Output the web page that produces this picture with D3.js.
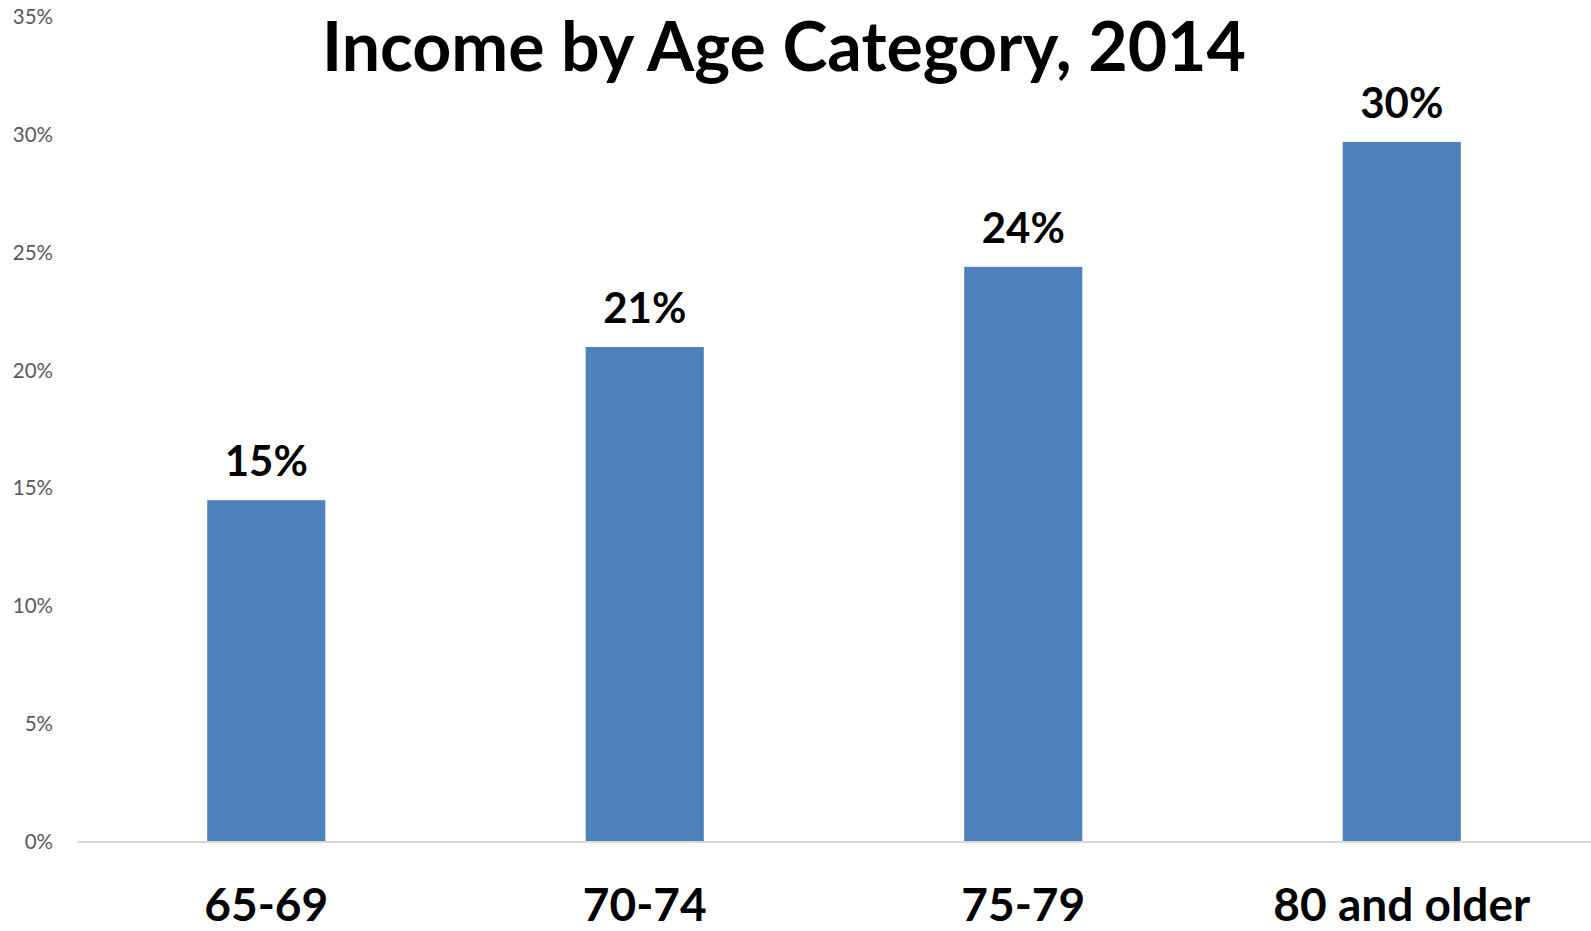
<!DOCTYPE html>
<html>
<head>
<meta charset="utf-8">
<script src="https://cdn.jsdelivr.net/npm/d3@7"></script>
<style>
  html, body { margin: 0; padding: 0; background: #ffffff; }
  svg { display: block; }
</style>
</head>
<body>
<svg id="chart" width="1591" height="931"></svg>
<script>
// Age groups and share of income (percent)
const categories = ["65-69", "70-74", "75-79", "80 and older"];
const values = [14.5, 21.0, 24.4, 29.7];
const yTicks = [0, 5, 10, 15, 20, 25, 30, 35];
const titleText = "Income by Age Category, 2014";

const W = 1591, H = 931;
const margin = { left: 77, right: 0, top: 17, bottom: 89 };
const FONT = "Lato, 'Open Sans', sans-serif";

const svg = d3.select("#chart");

const x = d3.scaleBand()
  .domain(categories)
  .range([margin.left, W - margin.right])
  .paddingInner(0.688)
  .paddingOuter(0.344);

const y = d3.scaleLinear()
  .domain([0, 35])
  .range([H - margin.bottom, margin.top]);

// Y axis labels (no axis line, no ticks)
const yAxis = svg.append("g")
  .attr("transform", `translate(${margin.left},0)`)
  .call(d3.axisLeft(y).tickValues(yTicks).tickSize(0).tickPadding(24)
    .tickFormat(d => d + "%"));
yAxis.select(".domain").remove();
yAxis.selectAll("text")
  .attr("fill", "#595959")
  .style("font-family", FONT)
  .style("font-size", "20.5px");

// Bars
svg.append("g").selectAll("rect")
  .data(values)
  .join("rect")
  .attr("x", (d, i) => x(categories[i]))
  .attr("width", x.bandwidth())
  .attr("y", d => y(d))
  .attr("height", d => y(0) - y(d))
  .attr("fill", "#4F81BD");

// Baseline
svg.append("line")
  .attr("x1", margin.left)
  .attr("x2", W - margin.right)
  .attr("y1", y(0))
  .attr("y2", y(0))
  .attr("stroke", "#D9D9D9")
  .attr("stroke-width", 2);

// Value labels
svg.append("g").selectAll("text")
  .data(values)
  .join("text")
  .attr("x", (d, i) => x(categories[i]) + x.bandwidth() / 2)
  .attr("y", d => y(d) - 24)
  .attr("text-anchor", "middle")
  .style("font-family", FONT)
  .style("font-weight", "700")
  .style("font-size", "42px")
  .attr("fill", "#000000")
  .text(d => Math.round(d) + "%");

// Category labels
const xAxis = svg.append("g")
  .attr("transform", `translate(0,${y(0)})`)
  .call(d3.axisBottom(x).tickSize(0).tickPadding(0));
xAxis.select(".domain").remove();
xAxis.selectAll("text")
  .attr("dy", null)
  .attr("y", 79)
  .attr("fill", "#000000")
  .style("font-family", FONT)
  .style("font-weight", "700")
  .style("font-size", "46px");

// Title
svg.append("text")
  .attr("x", 784)
  .attr("y", 71)
  .attr("text-anchor", "middle")
  .style("font-family", FONT)
  .style("font-weight", "700")
  .style("font-size", "68px")
  .attr("fill", "#000000")
  .text(titleText);
</script>
</body>
</html>
